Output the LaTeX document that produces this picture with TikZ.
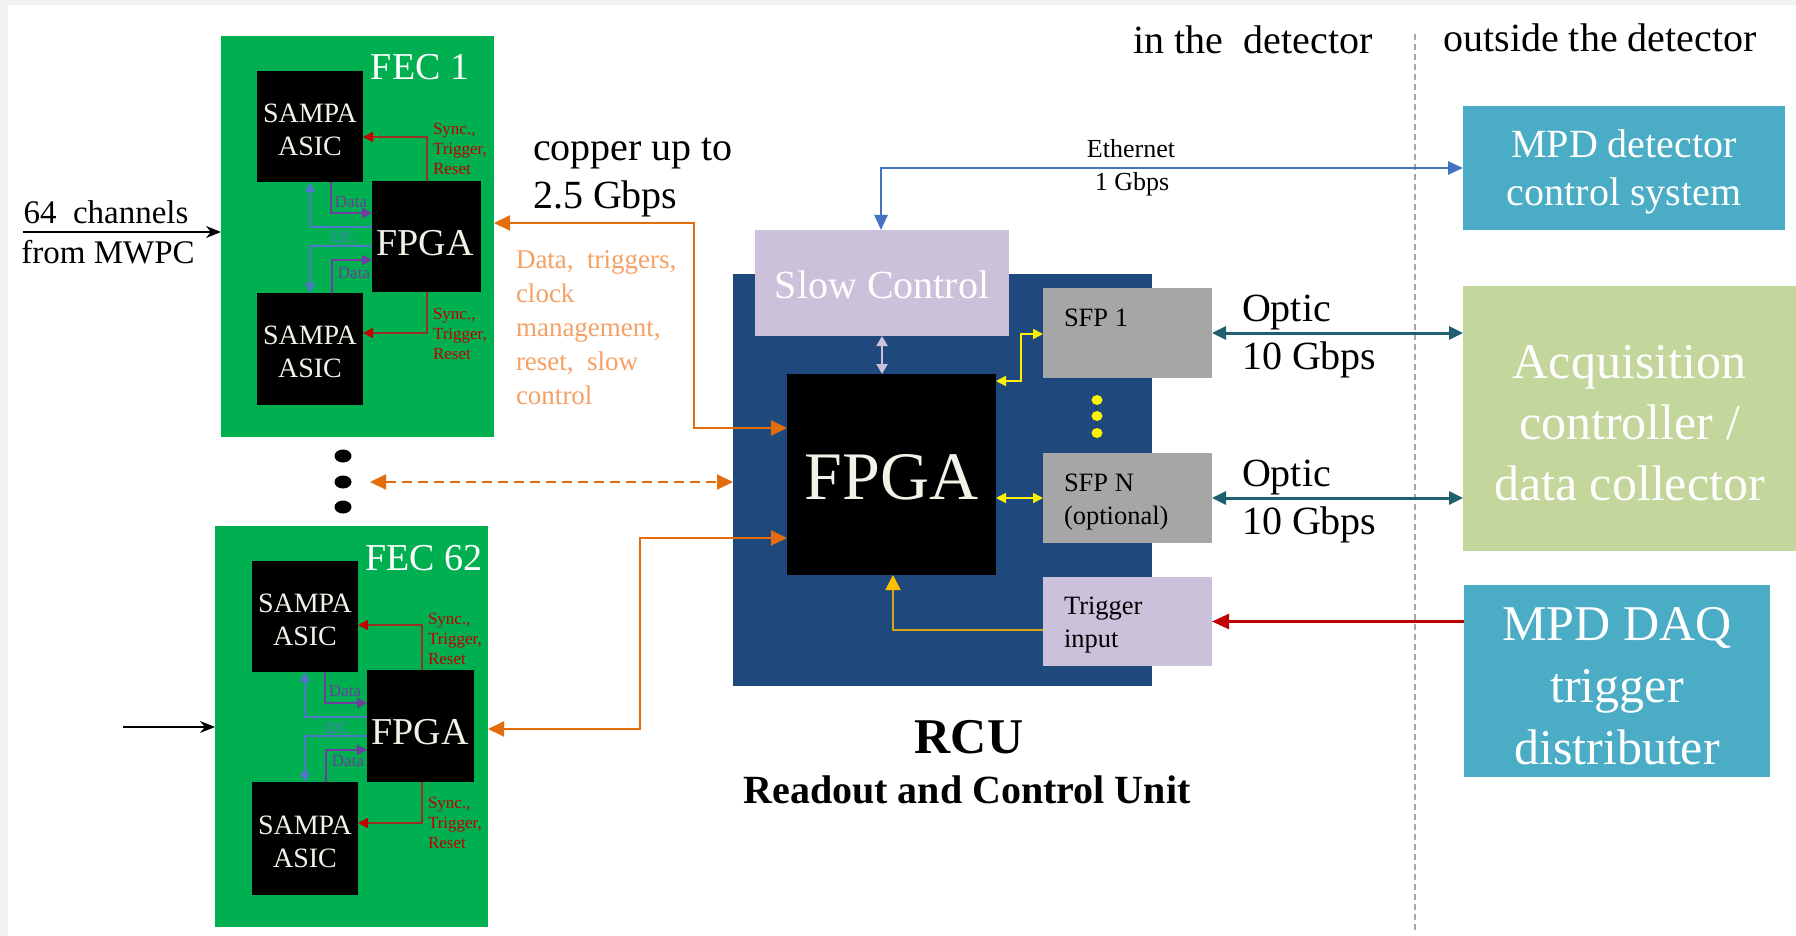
\documentclass[tikz,border=0pt]{standalone}
\usepackage{fontspec}
\setmainfont{Liberation Serif}
\usetikzlibrary{arrows.meta}
\definecolor{fecgreen}{RGB}{0,176,80}
\definecolor{rcublue}{RGB}{31,73,125}
\definecolor{lav}{RGB}{204,193,218}
\definecolor{sfpgray}{RGB}{166,166,166}
\definecolor{mpdblue}{RGB}{75,172,198}
\definecolor{acqgreen}{RGB}{195,214,155}
\definecolor{dorange}{RGB}{228,108,10}
\definecolor{lorange}{RGB}{245,160,100}
\definecolor{syncred}{RGB}{192,0,0}
\definecolor{syncline}{RGB}{150,50,35}
\definecolor{datapurple}{RGB}{112,60,160}
\definecolor{iicblue}{RGB}{80,120,200}
\definecolor{optteal}{RGB}{31,95,110}
\definecolor{ethblue}{RGB}{68,114,196}
\definecolor{goldtip}{RGB}{255,192,0}
\definecolor{goldline}{RGB}{215,165,20}
\definecolor{cream}{RGB}{242,242,232}
\definecolor{framegray}{RGB}{242,242,242}
\newcommand\myfs[2]{\fontsize{#1pt}{#2pt}\selectfont}
\begin{document}
\begin{tikzpicture}[x=1pt,y=-1pt,
  blk/.style={inner sep=0pt, outer sep=0pt, draw=none},
  txt/.style={inner sep=0pt, outer sep=0pt},
  syncln/.style={draw=syncline, line width=1.6pt, -{Triangle[length=10pt,width=10pt,color=syncred]}},
  dataln/.style={draw=datapurple, line width=1.6pt, -{Triangle[length=10pt,width=10pt]}},
  iicln/.style={draw=iicblue, line width=1.6pt, -{Triangle[length=10pt,width=10pt]}},
  orarr/.style={draw=dorange, line width=2pt, {Triangle[length=16pt,width=15pt]}-{Triangle[length=16pt,width=15pt]}},
  inarr/.style={draw=black, line width=1.6pt, -{Stealth[length=15pt,width=12pt]}},
  yarr/.style={draw=yellow, line width=1.8pt, {Triangle[length=10pt,width=10pt]}-{Triangle[length=10pt,width=10pt]}},
  lavarr/.style={draw=lav, line width=2pt, {Triangle[length=10pt,width=11pt]}-{Triangle[length=10pt,width=11pt]}},
  goldarr/.style={draw=goldline, line width=2pt, -{Triangle[length=15pt,width=15pt,color=goldtip]}},
  etharr/.style={draw=ethblue, line width=2.5pt, {Triangle[length=15pt,width=13pt]}-{Triangle[length=15pt,width=13pt]}},
  optarr/.style={draw=optteal, line width=3pt, {Triangle[length=14pt,width=13pt]}-{Triangle[length=14pt,width=13pt]}},
  trigarr/.style={draw=syncred, line width=2.5pt, -{Triangle[length=17pt,width=15pt]}},
  chip/.style={blk, fill=black},
  chiptxt/.style={txt, text=cream, align=center, font=\myfs{28}{33}},
  synctxt/.style={txt, anchor=west, align=left, text=syncred, font=\myfs{17}{20}},
  datatxt/.style={txt, text=datapurple, font=\myfs{17}{20}},
  iictxt/.style={txt, text=iicblue, font=\myfs{16}{20}},
  boxtxt/.style={txt, text=white, align=center},
]
\useasboundingbox (0,0) rectangle (1796,936);
\fill[framegray] (0,0) rectangle (1796,936);
\fill[white] (8,5) rectangle (1796,936);

% ---------- top labels and divider
\draw[draw=gray!70, line width=1.2pt, dash pattern=on 6pt off 4pt] (1415,34) -- (1415,930);
\node[txt, font=\myfs{40}{44}] (inlbl) at (1253,40) {in the~ detector};
\node[txt, font=\myfs{40}{44}] (outlbl) at (1600,38) {outside the detector};

% ---------- FEC 1
\node[blk, fill=fecgreen, minimum width=273pt, minimum height=401pt] (fec1) at (357.5,236.5) {};
\node[txt, text=white, font=\myfs{38}{44}] (fec1lbl) at (420,67) {FEC 1};
\node[chip, minimum width=106pt, minimum height=111pt] (s1a) at (310,126.5) {};
\node[chiptxt] (s1at) at (310,129.5) {SAMPA\\ASIC};
\node[chip, minimum width=109pt, minimum height=111pt] (f1) at (426.5,236.5) {};
\node[txt, text=cream, font=\myfs{38}{40}] (f1t) at (425,243) {FPGA};
\node[chip, minimum width=106pt, minimum height=112pt] (s1b) at (310,349) {};
\node[chiptxt] (s1bt) at (310,352) {SAMPA\\ASIC};
\coordinate (c1) at (427,137);
\coordinate (c2) at (427,333);
\coordinate (d1) at (331,213);
\coordinate (i1) at (310,227);
\coordinate (i2) at (310,246);
\coordinate (d2) at (332,260);
\draw[syncln] (c1 |- f1.north) -- (c1) -- (s1a.east |- c1);
\draw[syncln] (c2 |- f1.south) -- (c2) -- (s1b.east |- c2);
\draw[dataln] (d1 |- s1a.south) -- (d1) -- (f1.west |- d1);
\draw[iicln] (f1.west |- i1) -- (i1) -- (i1 |- s1a.south);
\draw[iicln] (f1.west |- i2) -- (i2) -- (i2 |- s1b.north);
\draw[dataln] (d2 |- s1b.north) -- (d2) -- (f1.west |- d2);
\node[synctxt] (sy1t) at (433,149) {Sync.,\\Trigger,\\Reset};
\node[synctxt] (sy2t) at (433,334) {Sync.,\\Trigger,\\Reset};
\node[datatxt] (d1t) at (351,202) {Data};
\node[iictxt] (i1t) at (343,237) {I2C};
\node[datatxt] (d2t) at (354,273) {Data};

% ---------- FEC 62
\node[blk, fill=fecgreen, minimum width=273pt, minimum height=401pt] (fec62) at (351.5,726.5) {};
\node[txt, text=white, font=\myfs{38}{44}] (fec62lbl) at (424,558) {FEC 62};
\node[chip, minimum width=106pt, minimum height=111pt] (s2a) at (305,616.5) {};
\node[chiptxt] (s2at) at (305,619.5) {SAMPA\\ASIC};
\node[chip, minimum width=107pt, minimum height=112pt] (f2) at (420.5,726) {};
\node[txt, text=cream, font=\myfs{38}{40}] (f2t) at (420,732) {FPGA};
\node[chip, minimum width=106pt, minimum height=113pt] (s2b) at (305,838.5) {};
\node[chiptxt] (s2bt) at (305,841.5) {SAMPA\\ASIC};
\coordinate (c3) at (422,625);
\coordinate (c4) at (422,823);
\coordinate (d3) at (325,703);
\coordinate (i3) at (305,717);
\coordinate (i4) at (305,736);
\coordinate (d4) at (326,750);
\draw[syncln] (c3 |- f2.north) -- (c3) -- (s2a.east |- c3);
\draw[syncln] (c4 |- f2.south) -- (c4) -- (s2b.east |- c4);
\draw[dataln] (d3 |- s2a.south) -- (d3) -- (f2.west |- d3);
\draw[iicln] (f2.west |- i3) -- (i3) -- (i3 |- s2a.south);
\draw[iicln] (f2.west |- i4) -- (i4) -- (i4 |- s2b.north);
\draw[dataln] (d4 |- s2b.north) -- (d4) -- (f2.west |- d4);
\node[synctxt] (sy3t) at (428,639) {Sync.,\\Trigger,\\Reset};
\node[synctxt] (sy4t) at (428,823) {Sync.,\\Trigger,\\Reset};
\node[datatxt] (d3t) at (345,691) {Data};
\node[iictxt] (i3t) at (337,728) {I2C};
\node[datatxt] (d4t) at (348,761) {Data};

% ---------- inputs
\node[txt, font=\myfs{33}{36}] (ch64) at (106,212) {64~ channels};
\node[txt, font=\myfs{33}{36}] (mwpc) at (108,252) {from MWPC};
\coordinate (in1) at (23,232);
\coordinate (in2) at (123,727);
\draw[inarr] (in1) -- (fec1.west |- in1);
\draw[inarr] (in2) -- (fec62.west |- in2);

% ---------- dots between FECs
\fill[black] (343,456) ellipse [x radius=8.5pt, y radius=6.5pt];
\fill[black] (343,482) ellipse [x radius=8.5pt, y radius=6.5pt];
\fill[black] (343,507) ellipse [x radius=8.5pt, y radius=6.5pt];

% ---------- RCU
\node[blk, fill=rcublue, minimum width=419pt, minimum height=412pt] (rcu) at (942.5,480) {};
\node[blk, fill=lav, minimum width=254pt, minimum height=106pt] (sc) at (882,283) {};
\node[txt, text=white, font=\myfs{40}{44}] (sct) at (882,285) {Slow Control};
\node[chip, minimum width=209pt, minimum height=201pt] (rf) at (891.5,474.5) {};
\node[txt, text=cream, font=\myfs{68}{72}] (rft) at (891.5,477) {FPGA};
\node[blk, fill=sfpgray, minimum width=169pt, minimum height=90pt] (sfp1) at (1127.5,333) {};
\node[blk, fill=sfpgray, minimum width=169pt, minimum height=90pt] (sfpn) at (1127.5,498) {};
\node[blk, fill=lav, minimum width=169pt, minimum height=89pt] (trig) at (1127.5,621.5) {};
\node[txt, anchor=west, font=\myfs{26.5}{33}] (sfp1t) at (1064,318) {SFP 1};
\node[txt, anchor=west, align=left, font=\myfs{26.5}{33}] (sfpnt) at (1064,502) {SFP N\\(optional)};
\node[txt, anchor=west, align=left, font=\myfs{26.5}{33}] (trigt) at (1064,625) {Trigger\\input};
\fill[yellow] (1097,400) ellipse [x radius=5.5pt, y radius=5pt];
\fill[yellow] (1097,416) ellipse [x radius=5.5pt, y radius=5pt];
\fill[yellow] (1097,433) ellipse [x radius=5.5pt, y radius=5pt];

\draw[lavarr] (sc.south) -- (sc.south |- rf.north);
\coordinate (y1) at (1021,381);
\coordinate (y1b) at (1021,334);
\draw[yarr] (rf.east |- y1) -- (y1) -- (y1b) -- (sfp1.west |- y1b);
\draw[yarr] (rf.east |- sfpn.west) -- (sfpn.west);
\coordinate (g1) at (893,630);
\draw[goldarr] (trig.west |- g1) -- (g1) -- (g1 |- rf.south);

\node[txt, font=\myfs{50}{56}\bfseries] (rcut) at (969,737) {RCU};
\node[txt, font=\myfs{40}{44}\bfseries] (rcul) at (967,790) {Readout and Control Unit};

% ---------- FEC <-> RCU
\coordinate (o1a) at (694,223);
\coordinate (o1b) at (694,428);
\draw[orarr] (fec1.east |- o1a) -- (o1a) -- (o1b) -- (rf.west |- o1b);
\coordinate (o2a) at (640,538);
\coordinate (o2b) at (640,729);
\draw[orarr] (fec62.east |- o2b) -- (o2b) -- (o2a) -- (rf.west |- o2a);
\coordinate (dashL) at (370,482);
\draw[orarr, dash pattern=on 10pt off 6pt] (dashL) -- (rcu.west |- dashL);
\node[txt, anchor=west, align=left, font=\myfs{40}{48}] (copper) at (533,177) {copper up to\\2.5 Gbps};
\node[txt, anchor=west, align=left, text=lorange, font=\myfs{27}{34}] (ortxt) at (516,328) {Data,~ triggers,\\clock\\management,\\reset,~ slow\\control};

% ---------- outside boxes
\node[blk, fill=mpdblue, minimum width=322pt, minimum height=124pt] (mpdctl) at (1624,168) {};
\node[boxtxt, font=\myfs{40}{48}] (mpdctlt) at (1624,172) {MPD detector\\control system};
\node[blk, fill=acqgreen, minimum width=333pt, minimum height=265pt] (acq) at (1629.5,418.5) {};
\node[boxtxt, font=\myfs{50}{61}] (acqt) at (1629.5,423) {Acquisition\\controller /\\data collector};
\node[blk, fill=mpdblue, minimum width=306pt, minimum height=192pt] (daq) at (1617,681) {};
\node[boxtxt, font=\myfs{50}{62}] (daqt) at (1617,686) {MPD DAQ\\trigger\\distributer};

\coordinate (e1) at (881,168);
\draw[etharr] (sc.north -| e1) -- (e1) -- (mpdctl.west);
\node[txt, font=\myfs{26}{30}] (etht) at (1131,149) {Ethernet};
\node[txt, font=\myfs{26}{30}] (gbt) at (1132,184) {1 Gbps};

\draw[optarr] (sfp1.east) -- (acq.west |- sfp1.east);
\draw[optarr] (sfpn.east) -- (acq.west |- sfpn.east);
\node[txt, anchor=west, align=left, font=\myfs{40}{48}] (opt1) at (1242,337) {Optic\\10 Gbps};
\node[txt, anchor=west, align=left, font=\myfs{40}{48}] (opt2) at (1242,502) {Optic\\10 Gbps};

\draw[trigarr] (daq.west |- trig.east) -- (trig.east);
\end{tikzpicture}
\end{document}
